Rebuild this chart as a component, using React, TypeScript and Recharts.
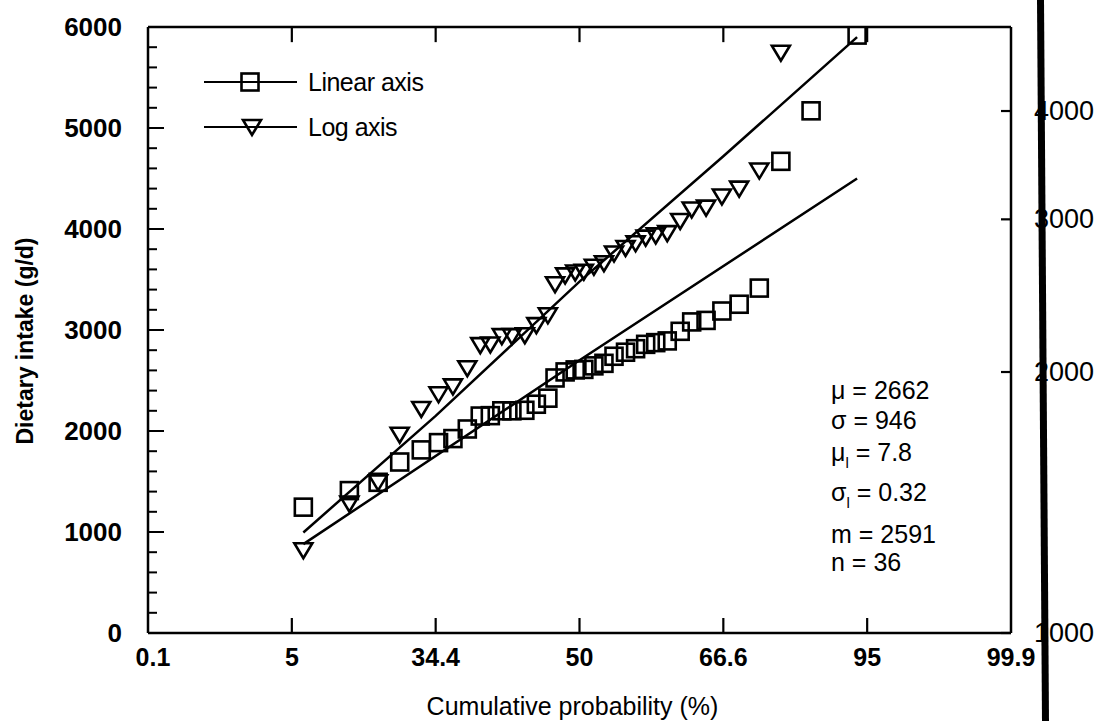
import { ComposedChart, Line, Scatter, XAxis, YAxis, Legend, ReferenceLine } from "recharts";

// probability axis: 7 equally spaced ticks, labelled with cumulative %
const probTicks = [0, 1, 2, 3, 4, 5, 6];
const probLabels = ["0.1", "5", "34.4", "50", "66.6", "95", "99.9"];
const innerTicks = [1, 2, 3, 4, 5];

// ranked observations: plotting position (tick units) and intake (g/d)
const rankPos = [
  1.08, 1.4, 1.6, 1.75, 1.9, 2.02, 2.12, 2.22, 2.31, 2.38, 2.46, 2.53, 2.62,
  2.7, 2.78, 2.83, 2.9, 2.97, 3.03, 3.1, 3.17, 3.24, 3.32, 3.39, 3.46, 3.53,
  3.61, 3.7, 3.78, 3.88, 3.99, 4.11, 4.25, 4.4, 4.61, 4.93,
];
const intake = [
  1246, 1410, 1492, 1693, 1813, 1885, 1925, 2020, 2148, 2152, 2200, 2200, 2205,
  2265, 2325, 2525, 2585, 2605, 2610, 2645, 2670, 2740, 2780, 2815, 2858, 2875,
  2892, 2987, 3080, 3095, 3188, 3255, 3415, 4670, 5170, 5920,
];

// fitted lines
const normalPos = [1.08, 3.0, 4.93];
const normalFit = [880, 2700, 4500];
const lognormalPos = [1.08, 2.0, 3.0, 4.0, 4.93];
const lognormalFit = [1306, 1780, 2543, 3547, 4868];

const linTicks = Array.from({ length: 31 }, (_, i) => i * 200);
const logTicks = [1000, 2000, 3000, 4000];

const stats = [
  { sym: "\u03bc", sub: "", val: "2662" },
  { sym: "\u03c3", sub: "", val: "946" },
  { sym: "\u03bc", sub: "l", val: "7.8" },
  { sym: "\u03c3", sub: "l", val: "0.32" },
  { sym: "m", sub: "", val: "2591" },
  { sym: "n", sub: "", val: "36" },
];
const statRowY = [390, 420, 452, 492, 534, 562];

const W = 1106;
const H = 721;
const PLOT_L = 148;
const PLOT_R = 1011;
const PLOT_T = 27;
const PLOT_B = 633;
const FONT = "'Liberation Sans', Arial, Helvetica, sans-serif";

const squares = rankPos.map((p, i) => ({ pos: p, lin: intake[i] }));
const triangles = rankPos.map((p, i) => ({ pos: p, log: intake[i] }));
const normalLine = normalPos.map((p, i) => ({ pos: p, lin: normalFit[i] }));
const lognormalLine = lognormalPos.map((p, i) => ({ pos: p, log: lognormalFit[i] }));

const SquareMark = ({ cx, cy }: any) => (
  <rect x={cx - 8.5} y={cy - 8.5} width={17} height={17} fill="none" stroke="#000" strokeWidth={2.6} />
);

const TriMark = ({ cx, cy }: any) => (
  <path
    d={`M${cx - 9},${cy - 7} L${cx + 9},${cy - 7} L${cx},${cy + 8} Z`}
    fill="none"
    stroke="#000"
    strokeWidth={2.6}
  />
);

const ProbTick = ({ x, payload }: any) => {
  const v = payload.value;
  return (
    <g>
      {v > 0 && v < 6 && (
        <line x1={x} x2={x} y1={PLOT_B} y2={PLOT_B - 15} stroke="#000" strokeWidth={2.2} />
      )}
      <text
        x={x + (v === 0 ? 5 : 0)}
        y={PLOT_B + 24}
        textAnchor="middle"
        dominantBaseline="central"
        fontFamily={FONT}
        fontWeight="bold"
        fontSize={25}
        fill="#000"
      >
        {probLabels[v]}
      </text>
    </g>
  );
};

const LinTick = ({ y, payload }: any) => {
  const v = payload.value;
  const major = v % 1000 === 0;
  return (
    <g>
      <line x1={PLOT_L} x2={PLOT_L + (major ? 16 : 9)} y1={y} y2={y} stroke="#000" strokeWidth={2} />
      {major && (
        <text
          x={PLOT_L - 26}
          y={y}
          textAnchor="end"
          dominantBaseline="central"
          fontFamily={FONT}
          fontWeight="bold"
          fontSize={26}
          fill="#000"
        >
          {v}
        </text>
      )}
    </g>
  );
};

const LogTick = ({ y, payload }: any) => (
  <g>
    <line x1={PLOT_R - 10} x2={PLOT_R} y1={y} y2={y} stroke="#000" strokeWidth={2.2} />
    <text
      x={1034}
      y={y}
      textAnchor="start"
      dominantBaseline="central"
      fontFamily={FONT}
      fontSize={27}
      fill="#000"
    >
      {payload.value}
    </text>
  </g>
);

const XTitle = ({ viewBox }: any) => (
  <text
    x={viewBox.x + viewBox.width / 2 - 7}
    y={706}
    textAnchor="middle"
    dominantBaseline="central"
    fontFamily={FONT}
    fontSize={25}
    fill="#000"
  >
    Cumulative probability (%)
  </text>
);

const YTitle = ({ viewBox }: any) => {
  const cx = 25;
  const cy = viewBox.y + viewBox.height / 2 + 11;
  return (
    <text
      x={cx}
      y={cy}
      transform={`rotate(-90 ${cx} ${cy})`}
      textAnchor="middle"
      dominantBaseline="central"
      fontFamily={FONT}
      fontWeight="bold"
      fontSize={23}
      fill="#000"
    >
      Dietary intake (g/d)
    </text>
  );
};

const LegendBox = ({ payload }: any) => {
  const items = (payload || []).filter((p: any) => p.type !== "none");
  return (
    <div style={{ display: "flex", flexDirection: "column", gap: 13 }}>
      {items.map((item: any, i: number) => (
        <div key={item.value} style={{ display: "flex", alignItems: "center", height: 32 }}>
          <svg width={104} height={32}>
            <line x1={0} x2={93} y1={16} y2={16} stroke="#000" strokeWidth={2} />
            {i === 0 ? <SquareMark cx={46} cy={16} /> : <TriMark cx={48} cy={16} />}
          </svg>
          <span style={{ fontFamily: FONT, fontSize: 25, color: "#000", letterSpacing: -0.5 }}>
            {item.value}
          </span>
        </div>
      ))}
    </div>
  );
};

export default function App() {
  return (
    <div style={{ position: "absolute", left: 0, top: 0, width: W, height: H, background: "#fff" }}>
      <ComposedChart width={W} height={H} margin={{ top: PLOT_T - 1, right: 0, bottom: 0, left: 0 }}>
        <XAxis
          xAxisId="b"
          type="number"
          dataKey="pos"
          domain={[0, 6]}
          ticks={probTicks}
          height={H - PLOT_B}
          tick={<ProbTick />}
          tickLine={false}
          axisLine={{ stroke: "#000", strokeWidth: 2.5 }}
          allowDataOverflow
          label={<XTitle />}
        />
        <XAxis
          xAxisId="t"
          orientation="top"
          type="number"
          dataKey="pos"
          domain={[0, 6]}
          ticks={innerTicks}
          height={1}
          tick={false}
          tickLine={false}
          axisLine={{ stroke: "#000", strokeWidth: 2.5 }}
        />
        <YAxis
          yAxisId="lin"
          type="number"
          dataKey="lin"
          domain={[0, 6000]}
          ticks={linTicks}
          interval={0}
          width={PLOT_L}
          tick={<LinTick />}
          tickLine={false}
          axisLine={{ stroke: "#000", strokeWidth: 2.5 }}
          allowDataOverflow
          label={<YTitle />}
        />
        <YAxis
          yAxisId="log"
          orientation="right"
          type="number"
          dataKey="log"
          scale="log"
          domain={[1000, 5000]}
          ticks={logTicks}
          interval={0}
          width={W - PLOT_R}
          tick={<LogTick />}
          tickLine={false}
          axisLine={{ stroke: "#000", strokeWidth: 2.5 }}
          allowDataOverflow
        />
        {innerTicks.map((t) => (
          <ReferenceLine
            key={t}
            xAxisId="b"
            yAxisId="lin"
            segment={[{ x: t, y: 6000 }, { x: t, y: 5850 }]}
            stroke="#000"
            strokeWidth={2.2}
          />
        ))}
        <Legend
          layout="vertical"
          align="center"
          verticalAlign="middle"
          content={<LegendBox />}
          wrapperStyle={{ left: 204, top: 66, width: 300 }}
        />
        <Line
          data={normalLine}
          xAxisId="b"
          yAxisId="lin"
          dataKey="lin"
          stroke="#000"
          strokeWidth={2.5}
          dot={false}
          legendType="none"
          isAnimationActive={false}
        />
        <Line
          data={lognormalLine}
          xAxisId="b"
          yAxisId="log"
          dataKey="log"
          stroke="#000"
          strokeWidth={2.5}
          dot={false}
          legendType="none"
          isAnimationActive={false}
        />
        <Scatter
          name="Linear axis"
          data={squares}
          xAxisId="b"
          yAxisId="lin"
          dataKey="lin"
          shape={<SquareMark />}
          isAnimationActive={false}
        />
        <Scatter
          name="Log axis"
          data={triangles}
          xAxisId="b"
          yAxisId="log"
          dataKey="log"
          shape={<TriMark />}
          isAnimationActive={false}
        />
        <g fontFamily={FONT} fontSize={25} fill="#000">
          {stats.map((s, i) => (
            <text key={i} x={831} y={statRowY[i]} dominantBaseline="central">
              {s.sym}
              {s.sub && (
                <tspan fontSize={15} dy={10}>
                  {s.sub}
                </tspan>
              )}
              <tspan dy={s.sub ? -10 : 0}>{" = " + s.val}</tspan>
            </text>
          ))}
        </g>
      </ComposedChart>
      <svg
        width={W}
        height={H}
        style={{ position: "absolute", left: 0, top: 0, pointerEvents: "none" }}
      >
        <polygon points="1037,0 1044,0 1049,721 1042,721" fill="#000" />
      </svg>
    </div>
  );
}
